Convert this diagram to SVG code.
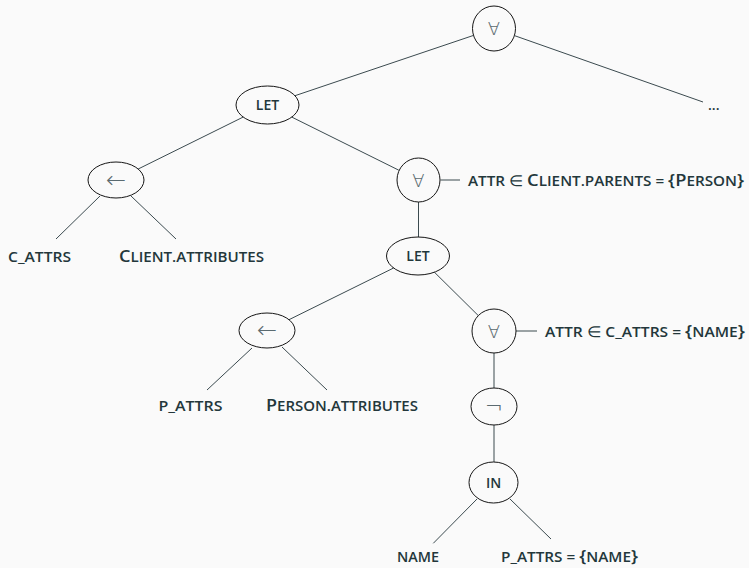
<svg xmlns="http://www.w3.org/2000/svg" width="749" height="568" viewBox="0 0 749 568">
<style>
.bg{fill:#fafafa}
.n ellipse{fill:none;stroke:#151515;stroke-width:1}
#edges line{stroke:#3b4a4f;stroke-width:1}
text{font-family:"Open Sans","Noto Sans",sans-serif;fill:#23373b;font-size:14px;font-weight:600}
.c{font-size:16.8px}
.m{font-family:"DejaVu Sans",sans-serif;fill:#5a6a70;font-size:18px;font-weight:200;text-anchor:middle}
.ar{font-size:24px}
.ng{font-size:22px}
.nl{text-anchor:middle}
.in{font-family:"DejaVu Sans",sans-serif;font-size:15px;font-weight:200}
</style>
<rect class="bg" x="0" y="0" width="749" height="568"/>
<g id="edges">
<line x1="473.2" y1="35.5" x2="295" y2="95.7"/>
<line x1="515" y1="35.8" x2="703" y2="102"/>
<line x1="243.1" y1="117.1" x2="138.2" y2="169"/>
<line x1="291.8" y1="117.1" x2="398.8" y2="170.2"/>
<line x1="440.5" y1="180" x2="460" y2="180"/>
<line x1="100" y1="196" x2="56" y2="239"/>
<line x1="131" y1="196" x2="176" y2="239"/>
<line x1="418.5" y1="202" x2="418.5" y2="237"/>
<line x1="393.6" y1="268" x2="289" y2="319.7"/>
<line x1="434.4" y1="272.2" x2="478.3" y2="315.6"/>
<line x1="516" y1="331" x2="537" y2="331"/>
<line x1="252" y1="348" x2="207" y2="390"/>
<line x1="282" y1="347" x2="327" y2="390"/>
<line x1="494" y1="353" x2="494" y2="388"/>
<line x1="494" y1="425" x2="494" y2="462"/>
<line x1="477" y1="499" x2="433.3" y2="543.3"/>
<line x1="510" y1="499" x2="551" y2="539"/>
</g>
<g id="n-root" class="n"><ellipse cx="494" cy="28.5" rx="21.5" ry="22.5"/><text class="m" x="494" y="35">∀</text></g>
<g id="n-let1" class="n"><ellipse cx="267.5" cy="105" rx="31.5" ry="19"/><text class="nl" x="267.5" y="110">LET</text></g>
<g id="n-more"><text x="708" y="110" font-weight="700">...</text></g>
<g id="n-assign1" class="n"><ellipse cx="116" cy="180" rx="28" ry="18"/><text class="m ar" x="116" y="187.5">←</text></g>
<g id="n-forall2" class="n"><ellipse cx="418.5" cy="180" rx="21.5" ry="22"/><text class="m" x="418.5" y="186.5">∀</text>
<text x="468" y="186" textLength="276" lengthAdjust="spacingAndGlyphs">ATTR <tspan class="in">∈</tspan> <tspan class="c">C</tspan>LIENT.PARENTS = <tspan class="c">{P</tspan>ERSON<tspan class="c">}</tspan></text></g>
<g id="n-cattrs"><text x="8" y="262" textLength="63" lengthAdjust="spacingAndGlyphs">C_ATTRS</text></g>
<g id="n-clientattrs"><text x="119" y="262" textLength="145" lengthAdjust="spacingAndGlyphs"><tspan class="c">C</tspan>LIENT.ATTRIBUTES</text></g>
<g id="n-let2" class="n"><ellipse cx="418" cy="256" rx="31.5" ry="19"/><text class="nl" x="418" y="261">LET</text></g>
<g id="n-assign2" class="n"><ellipse cx="267" cy="330.5" rx="28" ry="17.5"/><text class="m ar" x="267" y="338">←</text></g>
<g id="n-forall3" class="n"><ellipse cx="494" cy="331" rx="22" ry="22"/><text class="m" x="494" y="337.5">∀</text>
<text x="545" y="337" textLength="200" lengthAdjust="spacingAndGlyphs">ATTR <tspan class="in">∈</tspan> C_ATTRS = <tspan class="c">{</tspan>NAME<tspan class="c">}</tspan></text></g>
<g id="n-pattrs"><text x="158.5" y="411" textLength="64" lengthAdjust="spacingAndGlyphs">P_ATTRS</text></g>
<g id="n-personattrs"><text x="266" y="411" textLength="152" lengthAdjust="spacingAndGlyphs"><tspan class="c">P</tspan>ERSON.ATTRIBUTES</text></g>
<g id="n-not" class="n"><ellipse cx="494" cy="406.5" rx="23" ry="18.5"/><text class="m ng" x="494" y="414">¬</text></g>
<g id="n-in" class="n"><ellipse cx="493.5" cy="482.5" rx="24.5" ry="20.5"/><text class="nl" x="493.5" y="487.5">IN</text></g>
<g id="n-name"><text x="397" y="562" textLength="42" lengthAdjust="spacingAndGlyphs">NAME</text></g>
<g id="n-pattrsname"><text x="501" y="562" textLength="137" lengthAdjust="spacingAndGlyphs">P_ATTRS = <tspan class="c">{</tspan>NAME<tspan class="c">}</tspan></text></g>
</svg>
